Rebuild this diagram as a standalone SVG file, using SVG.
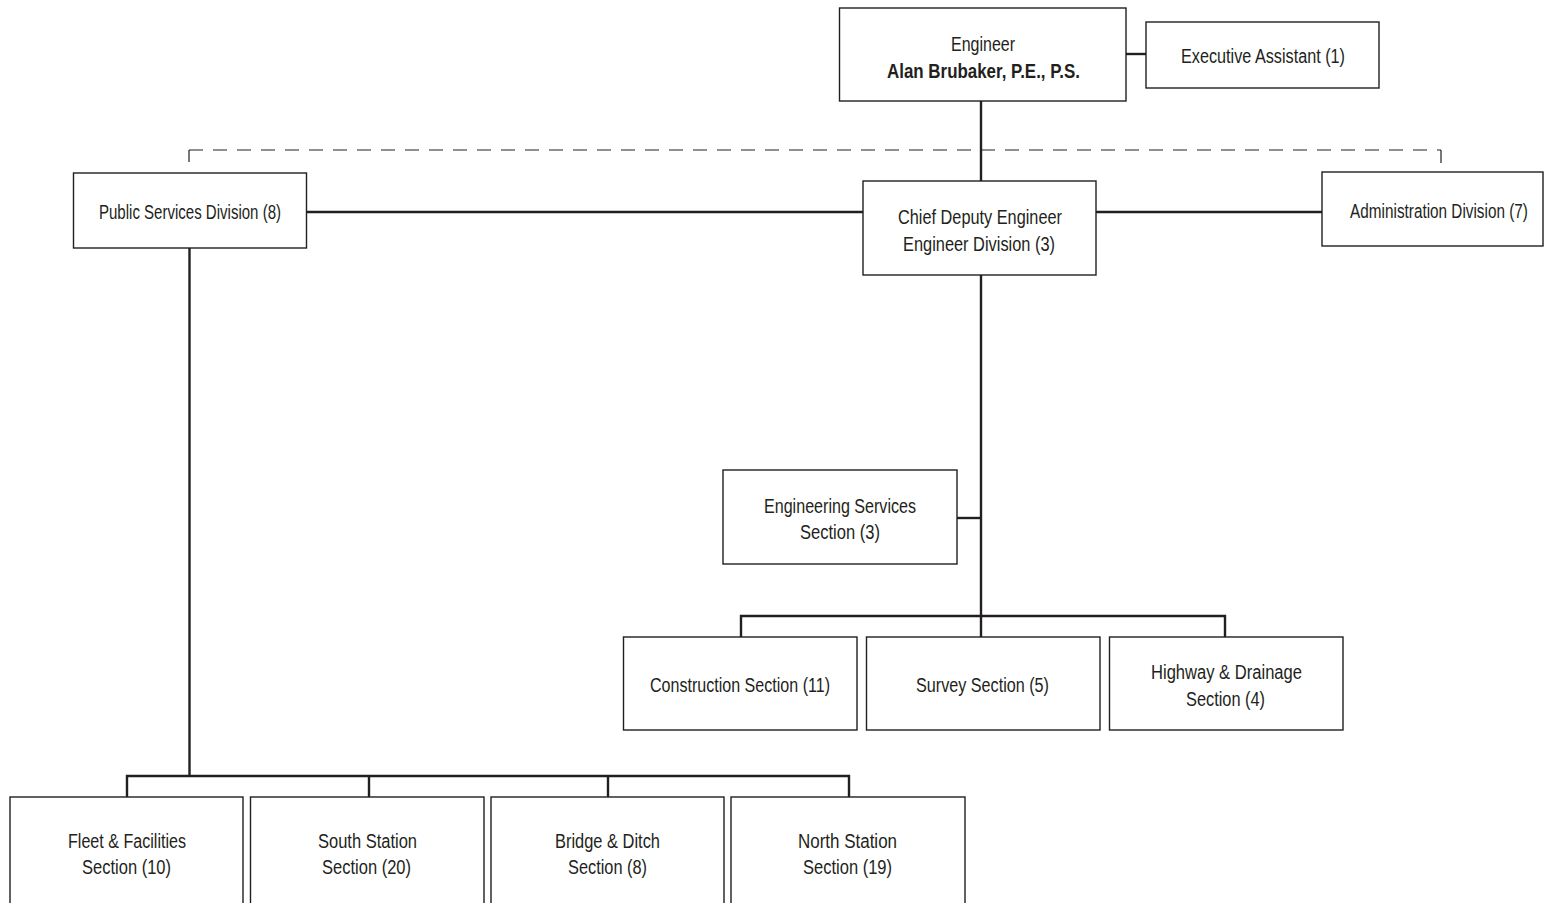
<svg xmlns="http://www.w3.org/2000/svg" width="1544" height="903" viewBox="0 0 1544 903">
  <style>
    .box { fill: #ffffff; stroke: #231f20; stroke-width: 1.4; }
    .lbl { font-family: "Liberation Sans Narrow", "Liberation Sans", Arial, sans-serif; font-size: 19.5px; fill: #231f20; text-anchor: middle; }
    .bold { font-weight: bold; }
    .link { fill: none; stroke: #231f20; stroke-width: 2.4; }
    .dash { fill: none; stroke: #231f20; stroke-width: 1.2; stroke-dasharray: 14 10; }
    .tick { fill: none; stroke: #231f20; stroke-width: 1.2; }
  </style>
  <rect width="1544" height="903" fill="#ffffff"/>

  <!-- connectors -->
  <g id="connectors">
    <!-- dashed staff line -->
    <path class="dash" d="M189,150 H1441"/>
    <path class="tick" d="M189,150 V162 M1441,150 V163"/>
    <!-- engineer to executive assistant -->
    <path class="link" d="M1126,54 H1146"/>
    <!-- engineer down to chief deputy -->
    <path class="link" d="M981,101 V181"/>
    <!-- division row -->
    <path class="link" d="M307,212 H863 M1096,212 H1322"/>
    <!-- chief deputy down to sections -->
    <path class="link" d="M981,275 V637"/>
    <path class="link" d="M957,518 H981"/>
    <path class="link" d="M741,637 V616 H1225 V637"/>
    <!-- public services down to sections -->
    <path class="link" d="M189.5,248 V776"/>
    <path class="link" d="M127,797 V776 H849 V797 M369,776 V797 M608,776 V797"/>
  </g>

  <g id="engineer">
    <rect class="box" x="839.5" y="8" width="286.5" height="93"/>
    <text class="lbl" x="983" y="51" textLength="64" lengthAdjust="spacingAndGlyphs">Engineer</text>
    <text class="lbl bold" x="983.5" y="78" textLength="193" lengthAdjust="spacingAndGlyphs">Alan Brubaker, P.E., P.S.</text>
  </g>

  <g id="executive-assistant">
    <rect class="box" x="1146" y="22" width="233" height="66"/>
    <text class="lbl" x="1263" y="63" textLength="164" lengthAdjust="spacingAndGlyphs">Executive Assistant (1)</text>
  </g>

  <g id="public-services">
    <rect class="box" x="73.5" y="173" width="233" height="75"/>
    <text class="lbl" x="190" y="219" textLength="182" lengthAdjust="spacingAndGlyphs">Public Services Division (8)</text>
  </g>

  <g id="chief-deputy">
    <rect class="box" x="863" y="181" width="233" height="94"/>
    <text class="lbl" x="980" y="224" textLength="164" lengthAdjust="spacingAndGlyphs">Chief Deputy Engineer</text>
    <text class="lbl" x="979" y="251" textLength="152" lengthAdjust="spacingAndGlyphs">Engineer Division (3)</text>
  </g>

  <g id="administration">
    <rect class="box" x="1322" y="172" width="221" height="74"/>
    <!-- narrowed horizontally so the label stays inside the page edge -->
    <text class="lbl" transform="translate(1439 218) scale(0.7 1)" x="0" y="0" textLength="254" lengthAdjust="spacingAndGlyphs">Administration Division (7)</text>
  </g>

  <g id="engineering-services">
    <rect class="box" x="723" y="470" width="234" height="94"/>
    <text class="lbl" x="840" y="513" textLength="152" lengthAdjust="spacingAndGlyphs">Engineering Services</text>
    <text class="lbl" x="840" y="539" textLength="80" lengthAdjust="spacingAndGlyphs">Section (3)</text>
  </g>

  <g id="construction">
    <rect class="box" x="623.5" y="637" width="233.5" height="93"/>
    <text class="lbl" x="740" y="692" textLength="180" lengthAdjust="spacingAndGlyphs">Construction Section (11)</text>
  </g>

  <g id="survey">
    <rect class="box" x="866.5" y="637" width="233.5" height="93"/>
    <text class="lbl" x="982.5" y="692" textLength="133" lengthAdjust="spacingAndGlyphs">Survey Section (5)</text>
  </g>

  <g id="highway-drainage">
    <rect class="box" x="1109.5" y="637" width="233.5" height="93"/>
    <text class="lbl" x="1226.5" y="679" textLength="151" lengthAdjust="spacingAndGlyphs">Highway &amp; Drainage</text>
    <text class="lbl" x="1225.5" y="706" textLength="79" lengthAdjust="spacingAndGlyphs">Section (4)</text>
  </g>

  <g id="fleet-facilities">
    <rect class="box" x="10" y="797" width="233" height="120"/>
    <text class="lbl" x="127" y="848" textLength="118" lengthAdjust="spacingAndGlyphs">Fleet &amp; Facilities</text>
    <text class="lbl" x="126.5" y="874" textLength="89" lengthAdjust="spacingAndGlyphs">Section (10)</text>
  </g>

  <g id="south-station">
    <rect class="box" x="250.5" y="797" width="233.5" height="120"/>
    <text class="lbl" x="367.5" y="848" textLength="99" lengthAdjust="spacingAndGlyphs">South Station</text>
    <text class="lbl" x="366.5" y="874" textLength="89" lengthAdjust="spacingAndGlyphs">Section (20)</text>
  </g>

  <g id="bridge-ditch">
    <rect class="box" x="491" y="797" width="233" height="120"/>
    <text class="lbl" x="607.5" y="848" textLength="105" lengthAdjust="spacingAndGlyphs">Bridge &amp; Ditch</text>
    <text class="lbl" x="607.5" y="874" textLength="79" lengthAdjust="spacingAndGlyphs">Section (8)</text>
  </g>

  <g id="north-station">
    <rect class="box" x="731" y="797" width="234" height="120"/>
    <text class="lbl" x="847.5" y="848" textLength="99" lengthAdjust="spacingAndGlyphs">North Station</text>
    <text class="lbl" x="847.5" y="874" textLength="89" lengthAdjust="spacingAndGlyphs">Section (19)</text>
  </g>
</svg>
